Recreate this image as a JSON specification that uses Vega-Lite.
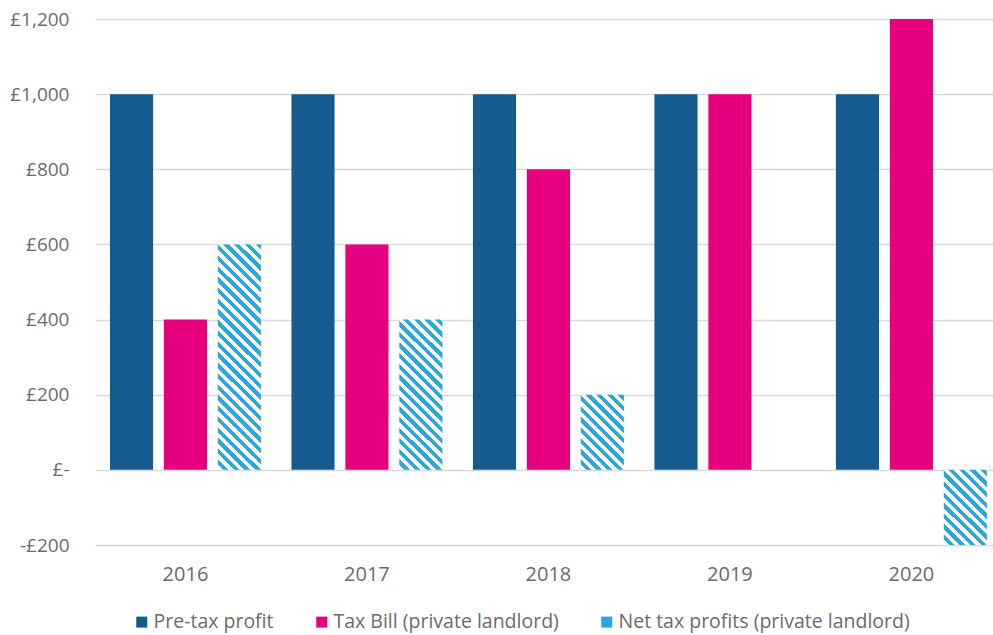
{
  "$schema": "https://vega.github.io/schema/vega-lite/v6.json",
  "width": 898,
  "height": 526,
  "autosize": {"type": "none"},
  "padding": {"left": 95, "top": 19, "right": 0, "bottom": 90},
  "background": "#ffffff",
  "config": {
    "view": {"stroke": null},
    "font": "Open Sans",
    "axis": {"labelFont": "Open Sans", "labelColor": "#6b6b6b", "labelFontSize": 19}
  },
  "data": {
    "values": [
      {"year": "2016", "series": "Pre-tax profit", "value": 1000},
      {"year": "2016", "series": "Tax Bill (private landlord)", "value": 400},
      {"year": "2016", "series": "Net tax profits (private landlord)", "value": 600},
      {"year": "2017", "series": "Pre-tax profit", "value": 1000},
      {"year": "2017", "series": "Tax Bill (private landlord)", "value": 600},
      {"year": "2017", "series": "Net tax profits (private landlord)", "value": 400},
      {"year": "2018", "series": "Pre-tax profit", "value": 1000},
      {"year": "2018", "series": "Tax Bill (private landlord)", "value": 800},
      {"year": "2018", "series": "Net tax profits (private landlord)", "value": 200},
      {"year": "2019", "series": "Pre-tax profit", "value": 1000},
      {"year": "2019", "series": "Tax Bill (private landlord)", "value": 1000},
      {"year": "2019", "series": "Net tax profits (private landlord)", "value": 0},
      {"year": "2020", "series": "Pre-tax profit", "value": 1000},
      {"year": "2020", "series": "Tax Bill (private landlord)", "value": 1200},
      {"year": "2020", "series": "Net tax profits (private landlord)", "value": -200}
    ]
  },
  "encoding": {
    "x": {
      "field": "year", "type": "nominal",
      "scale": {"paddingInner": 0.168, "paddingOuter": 0.058, "align": 0.71},
      "axis": {"title": null, "labelAngle": 0, "domain": false, "ticks": false, "labelPadding": 19, "grid": false, "labelFontSize": 20}
    },
    "xOffset": {
      "field": "series", "type": "nominal",
      "scale": {"domain": ["Pre-tax profit", "Tax Bill (private landlord)", "Net tax profits (private landlord)"], "paddingInner": 0.2, "paddingOuter": 0}
    },
    "y": {
      "field": "value", "type": "quantitative",
      "scale": {"domain": [-200, 1200], "nice": false, "zero": false},
      "axis": {
        "title": null, "values": [-200, 0, 200, 400, 600, 800, 1000, 1200],
        "domain": false, "ticks": false, "grid": true, "gridColor": "#d9d9d9", "gridWidth": 1.5,
        "labelPadding": 26,
        "labelExpr": "datum.value === 0 ? '£-\u00a0\u00a0' : (datum.value < 0 ? '-£' + format(-datum.value, ',') : '£' + format(datum.value, ','))"
      }
    }
  },
  "layer": [
    {
      "transform": [{"filter": "datum.series !== 'Net tax profits (private landlord)'"}],
      "mark": {"type": "bar"},
      "encoding": {
        "fill": {
          "field": "series", "type": "nominal",
          "scale": {
            "domain": ["Pre-tax profit", "Tax Bill (private landlord)", "Net tax profits (private landlord)"],
            "range": ["#145c8f", "#e6007e", "#2ca6df"]
          },
          "legend": {
            "title": null, "orient": "none", "legendX": 37, "legendY": 593, "direction": "horizontal",
            "symbolType": "square", "symbolSize": 121, "symbolStrokeWidth": 0,
            "labelFont": "Open Sans", "labelFontSize": 19.5, "labelColor": "#6b6b6b", "labelOffset": 2, "columnPadding": 38,
            "labelLimit": 400
          }
        }
      }
    },
    {
      "transform": [{"filter": "datum.series === 'Net tax profits (private landlord)'"}],
      "mark": {"type": "bar"},
      "encoding": {
        "fill": {
          "condition": [
            {"test": "datum.year === '2016'", "value": {"gradient": "linear", "x1": 0, "y1": 1, "x2": 0.2192, "y2": -0.149, "stops": [
              {"offset":0.02,"color":"#ffffff"},{"offset":0.02,"color":"#2ca6df"},{"offset":0.04,"color":"#2ca6df"},{"offset":0.04,"color":"#ffffff"},
              {"offset":0.06,"color":"#ffffff"},{"offset":0.06,"color":"#2ca6df"},{"offset":0.08,"color":"#2ca6df"},{"offset":0.08,"color":"#ffffff"},
              {"offset":0.10,"color":"#ffffff"},{"offset":0.10,"color":"#2ca6df"},{"offset":0.12,"color":"#2ca6df"},{"offset":0.12,"color":"#ffffff"},
              {"offset":0.14,"color":"#ffffff"},{"offset":0.14,"color":"#2ca6df"},{"offset":0.16,"color":"#2ca6df"},{"offset":0.16,"color":"#ffffff"},
              {"offset":0.18,"color":"#ffffff"},{"offset":0.18,"color":"#2ca6df"},{"offset":0.20,"color":"#2ca6df"},{"offset":0.20,"color":"#ffffff"},
              {"offset":0.22,"color":"#ffffff"},{"offset":0.22,"color":"#2ca6df"},{"offset":0.24,"color":"#2ca6df"},{"offset":0.24,"color":"#ffffff"},
              {"offset":0.26,"color":"#ffffff"},{"offset":0.26,"color":"#2ca6df"},{"offset":0.28,"color":"#2ca6df"},{"offset":0.28,"color":"#ffffff"},
              {"offset":0.30,"color":"#ffffff"},{"offset":0.30,"color":"#2ca6df"},{"offset":0.32,"color":"#2ca6df"},{"offset":0.32,"color":"#ffffff"},
              {"offset":0.34,"color":"#ffffff"},{"offset":0.34,"color":"#2ca6df"},{"offset":0.36,"color":"#2ca6df"},{"offset":0.36,"color":"#ffffff"},
              {"offset":0.38,"color":"#ffffff"},{"offset":0.38,"color":"#2ca6df"},{"offset":0.40,"color":"#2ca6df"},{"offset":0.40,"color":"#ffffff"},
              {"offset":0.42,"color":"#ffffff"},{"offset":0.42,"color":"#2ca6df"},{"offset":0.44,"color":"#2ca6df"},{"offset":0.44,"color":"#ffffff"},
              {"offset":0.46,"color":"#ffffff"},{"offset":0.46,"color":"#2ca6df"},{"offset":0.48,"color":"#2ca6df"},{"offset":0.48,"color":"#ffffff"},
              {"offset":0.50,"color":"#ffffff"},{"offset":0.50,"color":"#2ca6df"},{"offset":0.52,"color":"#2ca6df"},{"offset":0.52,"color":"#ffffff"},
              {"offset":0.54,"color":"#ffffff"},{"offset":0.54,"color":"#2ca6df"},{"offset":0.56,"color":"#2ca6df"},{"offset":0.56,"color":"#ffffff"},
              {"offset":0.58,"color":"#ffffff"},{"offset":0.58,"color":"#2ca6df"},{"offset":0.60,"color":"#2ca6df"},{"offset":0.60,"color":"#ffffff"},
              {"offset":0.62,"color":"#ffffff"},{"offset":0.62,"color":"#2ca6df"},{"offset":0.64,"color":"#2ca6df"},{"offset":0.64,"color":"#ffffff"},
              {"offset":0.66,"color":"#ffffff"},{"offset":0.66,"color":"#2ca6df"},{"offset":0.68,"color":"#2ca6df"},{"offset":0.68,"color":"#ffffff"},
              {"offset":0.70,"color":"#ffffff"},{"offset":0.70,"color":"#2ca6df"},{"offset":0.72,"color":"#2ca6df"},{"offset":0.72,"color":"#ffffff"},
              {"offset":0.74,"color":"#ffffff"},{"offset":0.74,"color":"#2ca6df"},{"offset":0.76,"color":"#2ca6df"},{"offset":0.76,"color":"#ffffff"},
              {"offset":0.78,"color":"#ffffff"},{"offset":0.78,"color":"#2ca6df"},{"offset":0.80,"color":"#2ca6df"},{"offset":0.80,"color":"#ffffff"},
              {"offset":0.82,"color":"#ffffff"},{"offset":0.82,"color":"#2ca6df"},{"offset":0.84,"color":"#2ca6df"},{"offset":0.84,"color":"#ffffff"},
              {"offset":0.86,"color":"#ffffff"},{"offset":0.86,"color":"#2ca6df"},{"offset":0.88,"color":"#2ca6df"},{"offset":0.88,"color":"#ffffff"},
              {"offset":0.90,"color":"#ffffff"},{"offset":0.90,"color":"#2ca6df"},{"offset":0.92,"color":"#2ca6df"},{"offset":0.92,"color":"#ffffff"},
              {"offset":0.94,"color":"#ffffff"},{"offset":0.94,"color":"#2ca6df"},{"offset":0.96,"color":"#2ca6df"},{"offset":0.96,"color":"#ffffff"},
              {"offset":0.98,"color":"#ffffff"},{"offset":0.98,"color":"#2ca6df"},{"offset":1,"color":"#2ca6df"}
            ]}},
            {"test": "datum.year === '2017'", "value": {"gradient": "linear", "x1": 0, "y1": 1, "x2": 0.3401, "y2": -0.1888, "stops": [
              {"offset":0.0275,"color":"#ffffff"},{"offset":0.0275,"color":"#2ca6df"},{"offset":0.055,"color":"#2ca6df"},{"offset":0.055,"color":"#ffffff"},
              {"offset":0.0825,"color":"#ffffff"},{"offset":0.0825,"color":"#2ca6df"},{"offset":0.11,"color":"#2ca6df"},{"offset":0.11,"color":"#ffffff"},
              {"offset":0.1375,"color":"#ffffff"},{"offset":0.1375,"color":"#2ca6df"},{"offset":0.165,"color":"#2ca6df"},{"offset":0.165,"color":"#ffffff"},
              {"offset":0.1925,"color":"#ffffff"},{"offset":0.1925,"color":"#2ca6df"},{"offset":0.22,"color":"#2ca6df"},{"offset":0.22,"color":"#ffffff"},
              {"offset":0.2475,"color":"#ffffff"},{"offset":0.2475,"color":"#2ca6df"},{"offset":0.275,"color":"#2ca6df"},{"offset":0.275,"color":"#ffffff"},
              {"offset":0.3025,"color":"#ffffff"},{"offset":0.3025,"color":"#2ca6df"},{"offset":0.33,"color":"#2ca6df"},{"offset":0.33,"color":"#ffffff"},
              {"offset":0.3575,"color":"#ffffff"},{"offset":0.3575,"color":"#2ca6df"},{"offset":0.385,"color":"#2ca6df"},{"offset":0.385,"color":"#ffffff"},
              {"offset":0.4125,"color":"#ffffff"},{"offset":0.4125,"color":"#2ca6df"},{"offset":0.44,"color":"#2ca6df"},{"offset":0.44,"color":"#ffffff"},
              {"offset":0.4675,"color":"#ffffff"},{"offset":0.4675,"color":"#2ca6df"},{"offset":0.495,"color":"#2ca6df"},{"offset":0.495,"color":"#ffffff"},
              {"offset":0.5225,"color":"#ffffff"},{"offset":0.5225,"color":"#2ca6df"},{"offset":0.55,"color":"#2ca6df"},{"offset":0.55,"color":"#ffffff"},
              {"offset":0.5775,"color":"#ffffff"},{"offset":0.5775,"color":"#2ca6df"},{"offset":0.605,"color":"#2ca6df"},{"offset":0.605,"color":"#ffffff"},
              {"offset":0.6325,"color":"#ffffff"},{"offset":0.6325,"color":"#2ca6df"},{"offset":0.66,"color":"#2ca6df"},{"offset":0.66,"color":"#ffffff"},
              {"offset":0.6875,"color":"#ffffff"},{"offset":0.6875,"color":"#2ca6df"},{"offset":0.715,"color":"#2ca6df"},{"offset":0.715,"color":"#ffffff"},
              {"offset":0.7425,"color":"#ffffff"},{"offset":0.7425,"color":"#2ca6df"},{"offset":0.77,"color":"#2ca6df"},{"offset":0.77,"color":"#ffffff"},
              {"offset":0.7975,"color":"#ffffff"},{"offset":0.7975,"color":"#2ca6df"},{"offset":0.825,"color":"#2ca6df"},{"offset":0.825,"color":"#ffffff"},
              {"offset":0.8525,"color":"#ffffff"},{"offset":0.8525,"color":"#2ca6df"},{"offset":0.88,"color":"#2ca6df"},{"offset":0.88,"color":"#ffffff"},
              {"offset":0.9075,"color":"#ffffff"},{"offset":0.9075,"color":"#2ca6df"},{"offset":0.935,"color":"#2ca6df"},{"offset":0.935,"color":"#ffffff"},
              {"offset":0.9625,"color":"#ffffff"},{"offset":0.9625,"color":"#2ca6df"},{"offset":0.99,"color":"#2ca6df"},{"offset":0.99,"color":"#ffffff"}
            ]}}
          ],
          "value": {"gradient": "linear", "x1": 0, "y1": 1, "x2": 0.6781, "y2": -0.1843, "stops": [
            {"offset":0.045,"color":"#ffffff"},{"offset":0.045,"color":"#2ca6df"},{"offset":0.09,"color":"#2ca6df"},{"offset":0.09,"color":"#ffffff"},
            {"offset":0.135,"color":"#ffffff"},{"offset":0.135,"color":"#2ca6df"},{"offset":0.18,"color":"#2ca6df"},{"offset":0.18,"color":"#ffffff"},
            {"offset":0.225,"color":"#ffffff"},{"offset":0.225,"color":"#2ca6df"},{"offset":0.27,"color":"#2ca6df"},{"offset":0.27,"color":"#ffffff"},
            {"offset":0.315,"color":"#ffffff"},{"offset":0.315,"color":"#2ca6df"},{"offset":0.36,"color":"#2ca6df"},{"offset":0.36,"color":"#ffffff"},
            {"offset":0.405,"color":"#ffffff"},{"offset":0.405,"color":"#2ca6df"},{"offset":0.45,"color":"#2ca6df"},{"offset":0.45,"color":"#ffffff"},
            {"offset":0.495,"color":"#ffffff"},{"offset":0.495,"color":"#2ca6df"},{"offset":0.54,"color":"#2ca6df"},{"offset":0.54,"color":"#ffffff"},
            {"offset":0.585,"color":"#ffffff"},{"offset":0.585,"color":"#2ca6df"},{"offset":0.63,"color":"#2ca6df"},{"offset":0.63,"color":"#ffffff"},
            {"offset":0.675,"color":"#ffffff"},{"offset":0.675,"color":"#2ca6df"},{"offset":0.72,"color":"#2ca6df"},{"offset":0.72,"color":"#ffffff"},
            {"offset":0.765,"color":"#ffffff"},{"offset":0.765,"color":"#2ca6df"},{"offset":0.81,"color":"#2ca6df"},{"offset":0.81,"color":"#ffffff"},
            {"offset":0.855,"color":"#ffffff"},{"offset":0.855,"color":"#2ca6df"},{"offset":0.9,"color":"#2ca6df"},{"offset":0.9,"color":"#ffffff"},
            {"offset":0.945,"color":"#ffffff"},{"offset":0.945,"color":"#2ca6df"},{"offset":0.99,"color":"#2ca6df"},{"offset":0.99,"color":"#ffffff"}
          ]}
        }
      }
    }
  ]
}
